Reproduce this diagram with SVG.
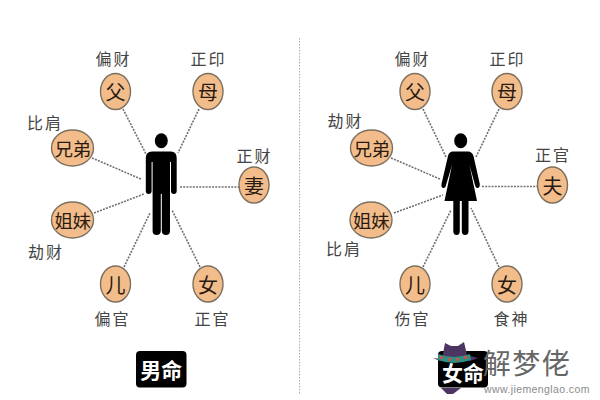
<svg xmlns="http://www.w3.org/2000/svg" width="600" height="400" viewBox="0 0 600 400">
<style>
text{font-family:"Noto Sans CJK SC","Noto Sans",sans-serif;text-anchor:middle}
.n{fill:#f3bd8b;stroke:#7d6f5e;stroke-width:1.4}
.g{fill:#2a1b12;font-size:20px;dominant-baseline:central}
.d{fill:#2a1b12;font-size:18.5px;letter-spacing:-.5px;dominant-baseline:central}
.l{fill:#444;font-size:16px;letter-spacing:2px;dominant-baseline:central}
.c line{stroke:#707070;stroke-width:1.6;stroke-dasharray:2 1.2}
.f{fill:#000}
.b{fill:#fff;font-size:21px;font-weight:700;dominant-baseline:central}
</style>
<rect width="600" height="400" fill="#fff"/>
<g id="connectors" class="c">
<line x1="299.5" y1="38" x2="299.5" y2="395" style="stroke:#aaa;stroke-width:1;stroke-dasharray:1.5 1.5"/>
<line x1="123" y1="109" x2="146" y2="154"/><line x1="199" y1="109" x2="178" y2="153"/>
<line x1="92" y1="158" x2="141" y2="179"/><line x1="94" y1="213" x2="144" y2="194"/>
<line x1="180" y1="187" x2="239" y2="187"/><line x1="124" y1="267" x2="150" y2="213"/>
<line x1="200" y1="267" x2="172" y2="210"/>
<line x1="423" y1="109" x2="446" y2="157"/><line x1="499" y1="109" x2="476" y2="157"/>
<line x1="391" y1="158" x2="440" y2="179"/><line x1="394" y1="213" x2="443" y2="195"/>
<line x1="482" y1="186.5" x2="537" y2="186.5"/><line x1="423" y1="267" x2="451" y2="210"/>
<line x1="499" y1="267" x2="471" y2="208"/>
</g>
<g id="man">
<ellipse class="f" cx="161.3" cy="140.7" rx="6.5" ry="7.5"/>
<path class="f" d="M152 151.5H171Q176.7 151.5 176.7 158V191Q176.7 194 173.8 194Q171 194 171 191V162H170V231Q170 235 166 235Q162 235 161.8 231V194H160.8V231Q160.6 235 156.6 235Q152.6 235 152.6 231V162H151.6V191Q151.6 194 148.7 194Q145.8 194 145.8 191V158Q145.8 151.5 152 151.5Z"/>
</g>
<g id="woman">
<ellipse class="f" cx="460.7" cy="140.7" rx="6.5" ry="7.5"/>
<path class="f" d="M453 151.5H468Q472 151.5 473.5 156L479.8 184Q480 188 477.5 188Q475.5 188 475 185L469.5 165L477 201H444.5L452 165L446 185Q445.5 188 443.5 188Q441 188 441.5 184L448 156Q449 151.5 453 151.5Z"/>
<path class="f" d="M453.3 201H459.8V231Q459.8 235 456.5 235Q453.3 235 453.3 231ZM461.8 201H468.5V231Q468.5 235 465 235Q461.8 235 461.8 231Z"/>
</g>
<g id="m-father"><ellipse class="n" cx="115.5" cy="91.5" rx="15" ry="18"/><text class="g" x="115.5" y="91.5">父</text><text class="l" x="113.5" y="58">偏财</text></g>
<g id="m-mother"><ellipse class="n" cx="208" cy="91.5" rx="15" ry="18"/><text class="g" x="208" y="91.5">母</text><text class="l" x="208.5" y="58">正印</text></g>
<g id="m-brothers"><ellipse class="n" cx="72.5" cy="148" rx="21" ry="18"/><text class="d" x="72.5" y="148">兄弟</text><text class="l" x="45" y="122">比肩</text></g>
<g id="m-wife"><ellipse class="n" cx="254" cy="185" rx="15" ry="18"/><text class="g" x="254" y="185">妻</text><text class="l" x="254.5" y="155">正财</text></g>
<g id="m-sisters"><ellipse class="n" cx="72.5" cy="220" rx="21" ry="18"/><text class="d" x="72.5" y="220">姐妹</text><text class="l" x="46" y="251">劫财</text></g>
<g id="m-son"><ellipse class="n" cx="115.5" cy="284" rx="15" ry="18"/><text class="g" x="115.5" y="284">儿</text><text class="l" x="112.5" y="318">偏官</text></g>
<g id="m-daughter"><ellipse class="n" cx="208" cy="284" rx="15" ry="18"/><text class="g" x="208" y="284">女</text><text class="l" x="212.5" y="318">正官</text></g>
<g id="f-father"><ellipse class="n" cx="415" cy="91.5" rx="15" ry="18"/><text class="g" x="415" y="91.5">父</text><text class="l" x="412.5" y="58">偏财</text></g>
<g id="f-mother"><ellipse class="n" cx="507" cy="91.5" rx="15" ry="18"/><text class="g" x="507" y="91.5">母</text><text class="l" x="507.5" y="58">正印</text></g>
<g id="f-brothers"><ellipse class="n" cx="371.5" cy="148" rx="21" ry="18"/><text class="d" x="371.5" y="148">兄弟</text><text class="l" x="345.5" y="120">劫财</text></g>
<g id="f-husband"><ellipse class="n" cx="552.5" cy="185" rx="15" ry="18"/><text class="g" x="552.5" y="185">夫</text><text class="l" x="553" y="154">正官</text></g>
<g id="f-sisters"><ellipse class="n" cx="371" cy="220" rx="21" ry="18"/><text class="d" x="371" y="220">姐妹</text><text class="l" x="344" y="248">比肩</text></g>
<g id="f-son"><ellipse class="n" cx="415" cy="284" rx="15" ry="18"/><text class="g" x="415" y="284">儿</text><text class="l" x="412.5" y="318">伤官</text></g>
<g id="f-daughter"><ellipse class="n" cx="507" cy="284" rx="15" ry="18"/><text class="g" x="507" y="284">女</text><text class="l" x="511.5" y="318">食神</text></g>
<g id="label-male"><rect class="f" x="136" y="351" width="50.5" height="36.5" rx="4"/><text class="b" x="161.3" y="369">男命</text></g>
<g id="label-female"><rect class="f" x="438" y="351" width="50" height="36.5" rx="4"/><text class="b" x="463" y="372">女命</text></g>
<g id="watermark">
<path d="M442 359L445 343L451 346H458L464 342L467 355L478 358L470 361H440L433 358Z" fill="#4c3560"/>
<path d="M438 354Q454 360 470 354L471 360Q454 366 438 360Z" fill="#2f8f86"/>
<path d="M440 356h3v3h-3zM448 358h3v3h-3zM456 358h3v3h-3zM464 356h3v3h-3z" fill="#c8553d"/>
<path d="M441 388L461 388L453 394H447Z" fill="#4c3560"/>
<text x="527" y="362" style="font-size:28px;letter-spacing:1.5px;fill:#666;dominant-baseline:central">解梦佬</text>
<text x="537" y="388.5" style="font-family:'Liberation Sans',sans-serif;font-size:10.5px;fill:#8a8a8a;letter-spacing:.4px;dominant-baseline:central">www.jiemenglao.com</text>
</g>
</svg>
